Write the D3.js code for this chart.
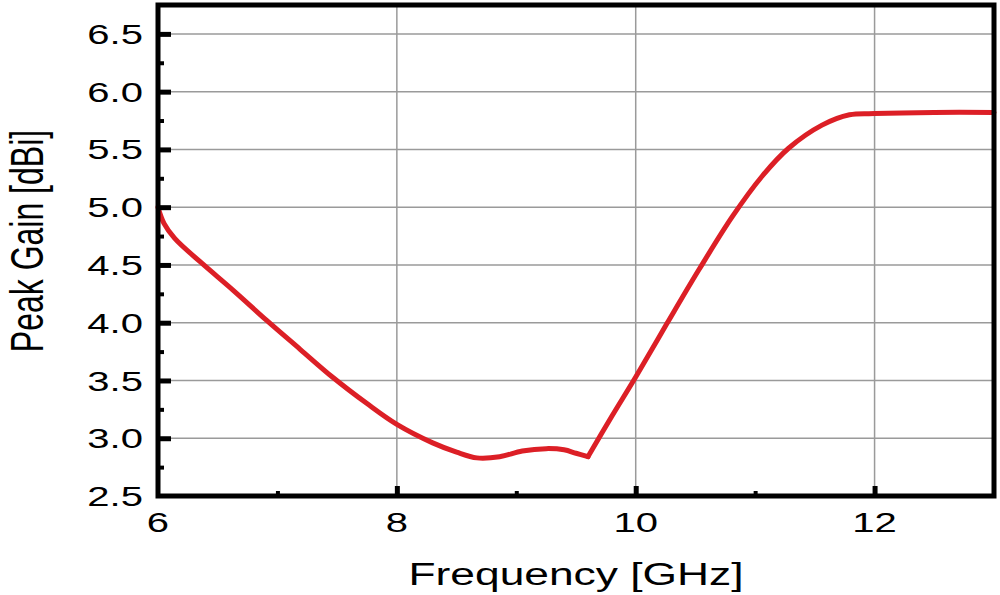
<!DOCTYPE html>
<html>
<head>
<meta charset="utf-8">
<script src="https://cdn.jsdelivr.net/npm/d3@7"></script>
<style>
  body { margin: 0; background: #fff; }
  svg { display: block; }
  text { font-family: 'Liberation Sans', Arial, sans-serif; fill: #000; }
</style>
</head>
<body>
<svg id="graph" width="1000" height="595"></svg>
<script>
// values
const freq = [6.0, 6.05, 6.14, 6.35, 6.63, 6.91, 7.19, 7.46, 7.75, 8.0, 8.3, 8.5, 8.67,
  8.86, 9.05, 9.25, 9.4, 9.5, 9.6, 9.8, 10.0, 10.26, 10.53, 10.81, 11.06, 11.28, 11.56,
  11.79, 12.0, 12.5, 13.0];
const gain = [5.0, 4.86, 4.73, 4.53, 4.28, 4.02, 3.77, 3.53, 3.30, 3.12, 2.96, 2.88, 2.83,
  2.84, 2.89, 2.91, 2.9, 2.87, 2.84, 3.19, 3.53, 3.99, 4.46, 4.92, 5.27, 5.51, 5.71,
  5.80, 5.81, 5.82, 5.82];
const cuspFreq = 9.6; // the curve has a sharp corner here
const xTicks = [6, 8, 10, 12];
const xMinor = [7, 9, 11];
const yTicks = [2.5, 3.0, 3.5, 4.0, 4.5, 5.0, 5.5, 6.0, 6.5];
const yMinor = [2.75, 3.25, 3.75, 4.25, 4.75, 5.25, 5.75, 6.25];

const svg = d3.select('#graph');
const sx = 1.43; // the source glyphs are stretched sideways

const xScale = d3.scaleLinear().domain([6, 13]).range([158, 994]);
const yScale = d3.scaleLinear().domain([2.5, 6.75]).range([496, 5]);
const [x0, x1] = xScale.range();
const [y0, y1] = yScale.range();

// grid
svg.append('g')
  .selectAll('line')
  .data(xTicks.filter(d => d > 6))
  .enter().append('line')
    .attr('x1', d => xScale(d)).attr('x2', d => xScale(d))
    .attr('y1', y1).attr('y2', y0)
    .attr('stroke', '#9a9a9a').attr('stroke-width', 1.5);

svg.append('g')
  .selectAll('line')
  .data(yTicks.filter(d => d > 2.5))
  .enter().append('line')
    .attr('x1', x0).attr('x2', x1)
    .attr('y1', d => yScale(d)).attr('y2', d => yScale(d))
    .attr('stroke', '#9a9a9a').attr('stroke-width', 1.5);

// curve, drawn as two smooth pieces meeting at the corner
const points = freq.map((f, i) => ({ f, g: gain[i] }));
const cut = freq.indexOf(cuspFreq);
const pieces = [points.slice(0, cut + 1), points.slice(cut)];

const line = d3.line()
  .x(d => xScale(d.f))
  .y(d => yScale(d.g))
  .curve(d3.curveCatmullRom.alpha(0.5));

svg.append('g')
  .selectAll('path')
  .data(pieces)
  .enter().append('path')
    .attr('d', line)
    .attr('fill', 'none')
    .attr('stroke', '#dc1f26')
    .attr('stroke-width', 5)
    .attr('stroke-linejoin', 'round')
    .attr('stroke-linecap', 'round');

// inward ticks
const xAxis = d3.axisBottom(xScale).tickValues(xTicks.filter(d => d > 6))
  .tickSize(-10).tickFormat('');
const xAxisMinor = d3.axisBottom(xScale).tickValues(xMinor).tickSize(-5).tickFormat('');
const yAxis = d3.axisLeft(yScale).tickValues(yTicks.filter(d => d > 2.5))
  .tickSize(-13).tickFormat('');
const yAxisMinor = d3.axisLeft(yScale).tickValues(yMinor).tickSize(-6).tickFormat('');

[[xAxis, 5], [xAxisMinor, 4]].forEach(([ax, w]) => {
  svg.append('g')
    .attr('transform', `translate(0,${y0})`)
    .call(ax)
    .call(g => g.select('.domain').remove())
    .call(g => g.selectAll('line').attr('stroke', '#000').attr('stroke-width', w));
});
[[yAxis, 5], [yAxisMinor, 4]].forEach(([ax, w]) => {
  svg.append('g')
    .attr('transform', `translate(${x0},0)`)
    .call(ax)
    .call(g => g.select('.domain').remove())
    .call(g => g.selectAll('line').attr('stroke', '#000').attr('stroke-width', w));
});

// frame
svg.append('rect')
  .attr('x', x0).attr('y', y1)
  .attr('width', x1 - x0).attr('height', y0 - y1)
  .attr('fill', 'none')
  .attr('stroke', '#000')
  .attr('stroke-width', 5);

// tick labels
svg.append('g')
  .selectAll('text')
  .data(yTicks)
  .enter().append('text')
    .attr('transform', d => `translate(143,${yScale(d)}) scale(${sx},1)`)
    .attr('dy', '0.36em')
    .attr('text-anchor', 'end')
    .style('font-size', '28px')
    .text(d => d.toFixed(1));

svg.append('g')
  .selectAll('text')
  .data(xTicks)
  .enter().append('text')
    .attr('transform', d => `translate(${xScale(d)},532) scale(${sx},1)`)
    .attr('text-anchor', 'middle')
    .style('font-size', '28px')
    .text(d => d);

// titles
svg.append('text')
  .attr('transform', `translate(576,585) scale(${sx},1)`)
  .attr('text-anchor', 'middle')
  .style('font-size', '31px')
  .text('Frequency [GHz]');

svg.append('text')
  .attr('transform', `translate(43,241) scale(${sx},1) rotate(-90)`)
  .attr('text-anchor', 'middle')
  .style('font-size', '32px')
  .text('Peak Gain [dBi]');
</script>
</body>
</html>
